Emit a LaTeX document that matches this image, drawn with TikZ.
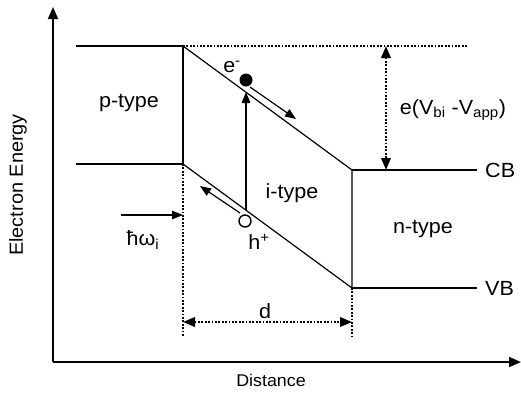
\documentclass[tikz,border=0pt]{standalone}
\usepackage{fontspec}
\setmainfont{Liberation Sans}[FakeStretch=1.05]
\usetikzlibrary{arrows.meta,calc}
\tikzset{
  axis/.style={black,line width=1.8pt,-{Triangle[length=12pt,width=10pt]}},
  band/.style={black,line width=1.2pt},
  guide/.style={black,line width=2pt,dash pattern=on 1.8pt off 1.6pt},
  move/.style={black,line width=1.2pt,-{Triangle[length=11pt,width=8.5pt]}},
  span/.style={guide,{Triangle[length=12pt,width=9.5pt]}-{Triangle[length=12pt,width=9.5pt]}},
  lab/.style={font=\fontsize{20.5}{23}\selectfont,inner sep=0pt},
  axlab/.style={font=\fontsize{17}{20}\selectfont,inner sep=0pt},
}

\begin{document}
\begin{tikzpicture}[x=1pt,y=-1pt]
  \path[use as bounding box] (0,0) rectangle (521,392);

  \coordinate (orig) at (53,362);
  \coordinate (ytop) at (53,7);
  \coordinate (xend) at (521,362);
  \draw[axis] (orig) -- (ytop);
  \draw[axis] (orig) -- (xend);
  \node[axlab,rotate=90,font=\fontsize{19}{22}\selectfont] (elabel) at (18,185) {Electron Energy};
  \node[axlab] (dlabel) at (271,380) {Distance};

  \coordinate (pcb) at (76,46);
  \coordinate (pvb) at (76,164);
  \coordinate (topleft) at (183,46);
  \coordinate (botleft) at (183,164);
  \coordinate (topright) at (352,170);
  \coordinate (botright) at (352,288);
  \coordinate (ncb) at (477,170);
  \coordinate (nvb) at (477,288);
  \coordinate (dotend) at (468,46);

  \draw[band] (pcb) -- (topleft) -- (botleft) -- (pvb);
  \draw[band] (topleft) -- (topright) -- (botright) -- (botleft);
  \draw[band] (topright) -- (ncb);
  \draw[band] (botright) -- (nvb);
  \draw[guide] (topleft) -- (dotend);
  \draw[guide] (botleft) -- (183,336);
  \draw[guide] (botright) -- (352,336);
  \draw[span] (386,46) -- (386,170);
  \draw[span] (183,322) -- (352,322);

  \node[lab] (ptype) at (129,103) {p-type};
  \node[lab] (itype) at (292,193) {i-type};
  \node[lab] (ntype) at (423,229) {n-type};
  \node[lab,anchor=west] (cb) at (485,170) {CB};
  \node[lab,anchor=west] (vb) at (485,288) {VB};
  \node[lab] (vbias) at (453,110) {e(V\textsubscript{bi} -V\textsubscript{app})};
  \node[lab] (dwidth) at (265,311) {d};

  \node[circle,fill=black,inner sep=0pt,minimum size=13pt] (elec) at (246,80) {};
  \node[circle,draw=black,line width=1.4pt,fill=white,inner sep=0pt,minimum size=12pt] (hole) at (245,221) {};
  \node[lab] (elab) at (232,67) {e\textsuperscript{-}};
  \node[lab] (hlab) at (259,242) {h\textsuperscript{+}};
  \draw[move] (246,210) -- (246,92);
  \draw[move] (250,87) -- (296,119);
  \draw[move] (240,213) -- (200,186);

  \coordinate (photon) at (121,215);
  \draw[move] (photon) -- (183,215);
  \node[lab] (hw) at (143,240) {ħω\textsubscript{i}};
\end{tikzpicture}
\end{document}
